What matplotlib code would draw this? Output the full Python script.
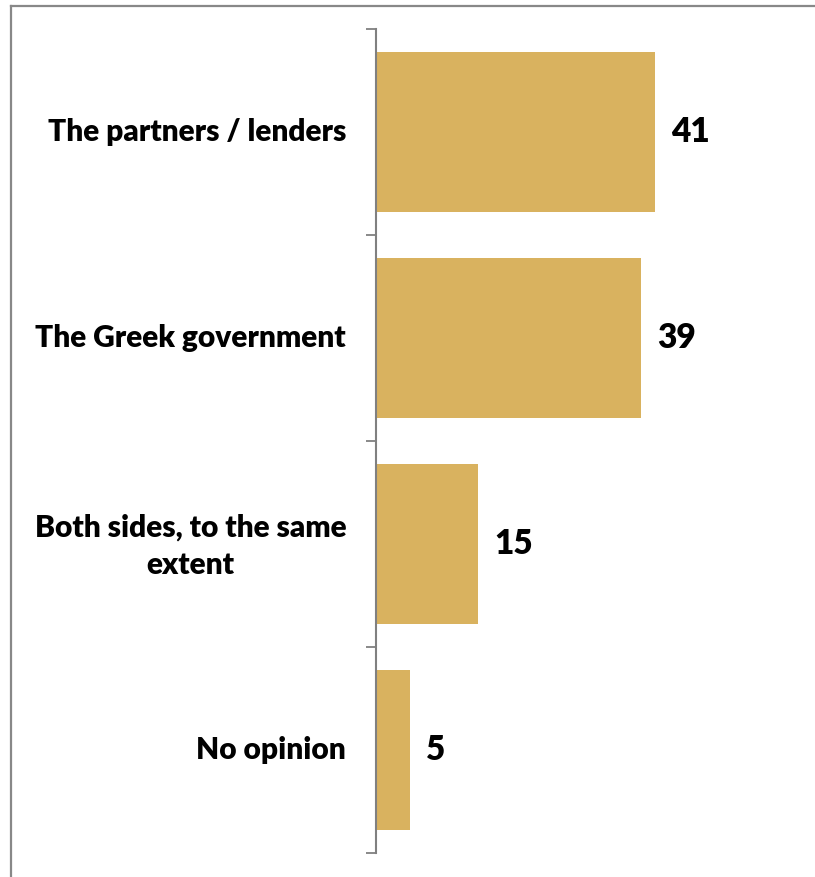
import matplotlib.pyplot as plt
from matplotlib.lines import Line2D

plt.rcParams['font.family'] = ['Lato', 'DejaVu Sans']

categories = ['The partners / lenders', 'The Greek government',
              'Both sides, to the same\nextent', 'No opinion']
values = [41, 39, 15, 5]

W, H = 815, 877
fig = plt.figure(figsize=(W / 100, H / 100), dpi=100)

# axes placed in pixel terms: spine at x=376, ticks from y=29 to y=853
ax = fig.add_axes([376 / W, (H - 853) / H, (W - 376) / W, (853 - 29) / H])
pos = list(range(len(values)))
ax.barh(pos, values, height=0.78, color='#D9B25F')
ax.set_xlim(0, (W - 376) / 6.8)
ax.set_ylim(len(values) - 0.5, -0.5)

for p, v in zip(pos, values):
    ax.text(v + 2.4, p, str(v), va='center', ha='left',
            fontsize=24, fontweight='heavy', color='black')

for p, c in zip(pos, categories):
    if '\n' in c:
        ax.text(-27.3, p + 0.01, c, va='center', ha='center', multialignment='center',
                fontsize=21.5, fontweight='heavy', color='black', linespacing=1.4)
    else:
        ax.text(-4.4, p, c, va='center', ha='right',
                fontsize=21.5, fontweight='heavy', color='black')

# tick marks at the category boundaries
ax.set_yticks([i - 0.5 for i in range(len(values) + 1)])
ax.set_yticklabels([])
ax.tick_params(axis='y', length=7, width=1.3, color='#808080', direction='out')
ax.set_xticks([])
for s in ['top', 'right', 'bottom']:
    ax.spines[s].set_visible(False)
ax.spines['left'].set_color('#808080')
ax.spines['left'].set_linewidth(1.5)

# outer frame (only top and left visible in the reference)
fig.add_artist(Line2D([11 / W, 1], [1 - 5.5 / H, 1 - 5.5 / H],
                      transform=fig.transFigure, color='#888888', lw=1.6))
fig.add_artist(Line2D([11 / W, 11 / W], [0, 1 - 5.5 / H],
                      transform=fig.transFigure, color='#888888', lw=1.6))

fig.savefig('out.png', dpi=100)
